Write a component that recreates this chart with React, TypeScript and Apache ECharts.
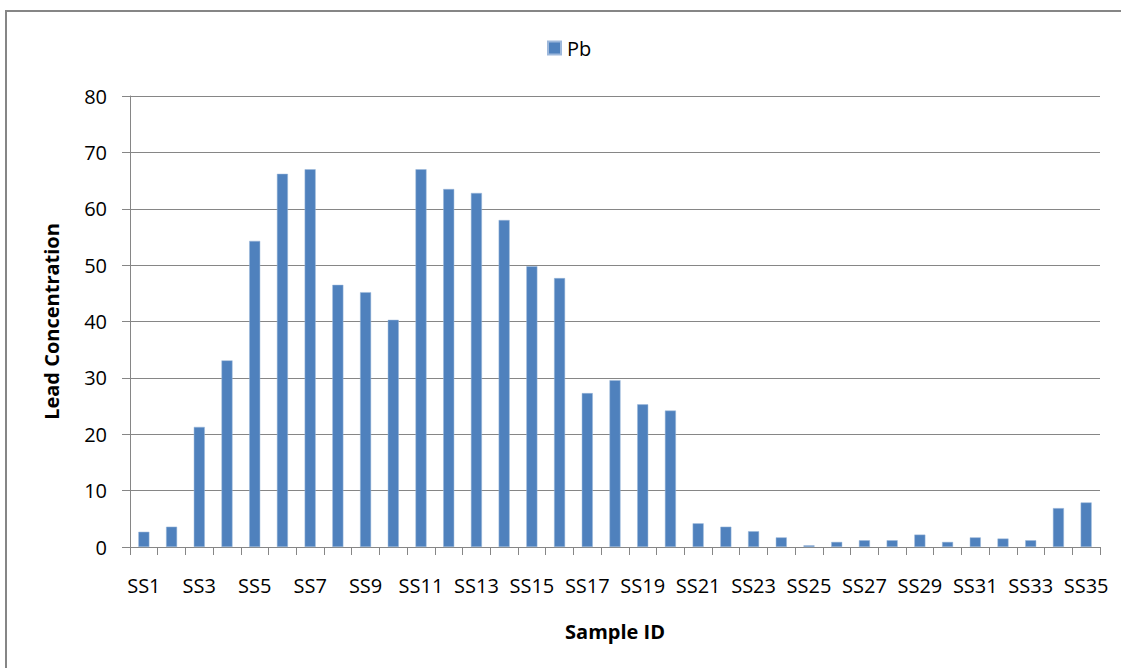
import React, { useEffect, useRef } from "react";
import * as echarts from "echarts";

const categories = [
  "SS1", "SS2", "SS3", "SS4", "SS5", "SS6", "SS7", "SS8", "SS9", "SS10",
  "SS11", "SS12", "SS13", "SS14", "SS15", "SS16", "SS17", "SS18", "SS19", "SS20",
  "SS21", "SS22", "SS23", "SS24", "SS25", "SS26", "SS27", "SS28", "SS29", "SS30",
  "SS31", "SS32", "SS33", "SS34", "SS35",
];

const pbValues = [
  2.7, 3.6, 21.3, 33.1, 54.3, 66.2, 67.0, 46.5, 45.2, 40.3,
  67.0, 63.5, 62.8, 58.0, 49.8, 47.7, 27.3, 29.6, 25.3, 24.2,
  4.2, 3.6, 2.8, 1.7, 0.3, 0.9, 1.2, 1.2, 2.2, 0.9,
  1.7, 1.5, 1.2, 6.9, 7.9,
];

const seriesName = "Pb";
const xTitle = "Sample ID";
const yTitle = "Lead Concentration";

const FONT = "'Open Sans', 'Noto Sans', sans-serif";
const GRAY = "#868686";

export default function App() {
  const ref = useRef<HTMLDivElement>(null);

  useEffect(() => {
    if (!ref.current) return;
    const chart = echarts.init(ref.current, null, { renderer: "svg" });
    chart.setOption({
      animation: false,
      backgroundColor: "#ffffff",
      textStyle: { fontFamily: FONT },
      legend: {
        data: [seriesName],
        left: 542,
        top: 33,
        itemWidth: 13,
        itemHeight: 13,
        icon: "rect",
        itemGap: 10,
        textStyle: { fontFamily: FONT, fontSize: 20, color: "#000", lineHeight: 20, padding: [0, 0, 0, 1] },
      },
      grid: { left: 130, top: 96, right: 21, bottom: 121, containLabel: false },
      xAxis: {
        type: "category",
        data: categories,
        name: xTitle,
        nameLocation: "middle",
        nameGap: 74,
        nameTextStyle: { fontFamily: FONT, fontSize: 20, fontWeight: "bold", color: "#000", verticalAlign: "top", lineHeight: 20 },
        axisLine: { show: true, lineStyle: { color: GRAY, width: 1 } },
        axisTick: { show: true, interval: 0, length: 8, lineStyle: { color: GRAY } },
        axisLabel: { interval: 1, margin: 28, fontFamily: FONT, fontSize: 20, color: "#000" },
        splitLine: { show: false },
      },
      yAxis: {
        type: "value",
        min: 0,
        max: 80,
        interval: 10,
        name: yTitle,
        nameLocation: "middle",
        nameRotate: 90,
        nameGap: 69,
        nameTextStyle: { fontFamily: FONT, fontSize: 20, fontWeight: "bold", color: "#000" },
        axisLine: { show: true, lineStyle: { color: GRAY, width: 1 } },
        axisTick: { show: true, length: 8, lineStyle: { color: GRAY } },
        axisLabel: { margin: 23, fontFamily: FONT, fontSize: 20, color: "#000" },
        splitLine: { show: true, lineStyle: { color: GRAY, width: 1 } },
      },
      series: [
        {
          name: seriesName,
          type: "bar",
          data: pbValues,
          barWidth: 11,
          itemStyle: { color: "#4F81BD", borderColor: "#9db8db", borderWidth: 0.5 },
        },
      ],
      graphic: [
        {
          type: "rect",
          shape: { x: 6, y: 11, width: 1200, height: 700 },
          style: { fill: "none", stroke: GRAY, lineWidth: 2 },
          silent: true,
          z: 100,
        },
      ],
    });
    return () => chart.dispose();
  }, []);

  return (
    <div
      ref={ref}
      style={{ position: "fixed", left: 0, top: 0, width: 1121, height: 668 }}
    />
  );
}
